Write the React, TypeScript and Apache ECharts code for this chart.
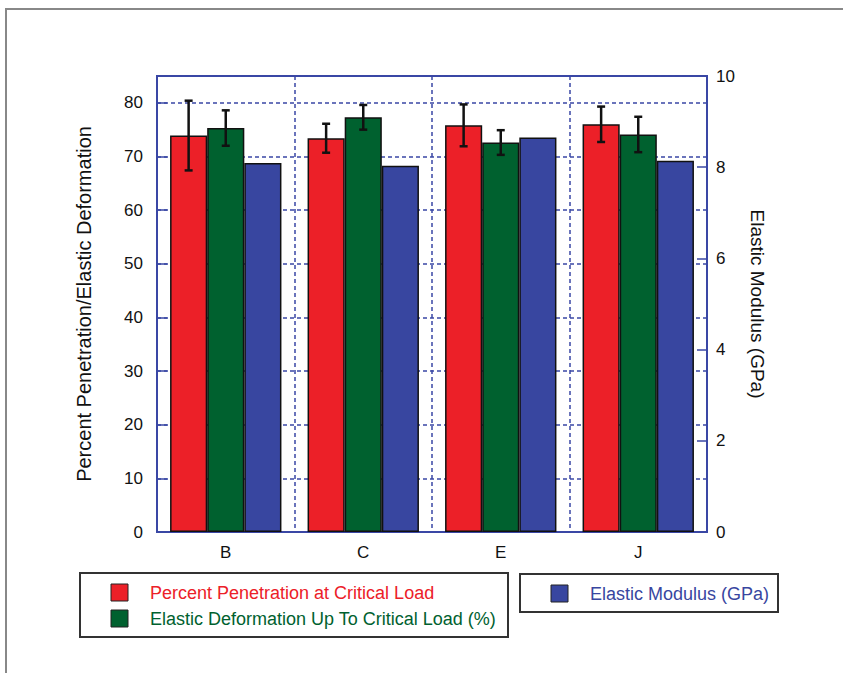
import React, { useEffect, useRef } from "react";
import * as echarts from "echarts";

const categories = ["B", "C", "E", "J"];
const penetration = [73.9, 73.4, 75.8, 76.0];
const penetrationErr = [6.5, 2.7, 3.9, 3.3];
const deformation = [75.3, 77.3, 72.6, 74.1];
const deformationErr = [3.3, 2.3, 2.3, 3.3];
const modulus = [8.09, 8.03, 8.65, 8.14];
const leftTicks = [0, 10, 20, 30, 40, 50, 60, 70, 80];
const rightTicks = [0, 2, 4, 6, 8, 10];

const RED = "#ec2028";
const GREEN = "#00612f";
const BLUE = "#3846a0";
const AXIS = "#3a47a5";
const FONT = "'Liberation Sans', Arial, Helvetica, sans-serif";
const BAR_FRAC = 0.27;

export default function App() {
  const ref = useRef<HTMLDivElement>(null);
  useEffect(() => {
    if (!ref.current) return;
    const chart = echarts.init(ref.current, undefined, { renderer: "svg" });

    const errData: number[][] = [];
    categories.forEach((_, i) => {
      errData.push([i, penetration[i] - penetrationErr[i], penetration[i] + penetrationErr[i], -1]);
      errData.push([i, deformation[i] - deformationErr[i], deformation[i] + deformationErr[i], 0]);
    });

    const dashed = { color: AXIS, width: 1.5, type: [4, 3] as any };

    chart.setOption({
      animation: false,
      backgroundColor: "#fff",
      textStyle: { fontFamily: FONT },
      grid: {
        left: 157,
        top: 76,
        width: 550,
        height: 456,
        show: true,
        borderColor: AXIS,
        borderWidth: 2,
        backgroundColor: "transparent",
      },
      xAxis: {
        type: "category",
        data: categories,
        axisLine: { show: true, lineStyle: { color: AXIS, width: 2 } },
        axisTick: { show: false },
        axisLabel: { color: "#111", fontSize: 17, margin: 12, fontFamily: FONT },
        splitLine: { show: true, lineStyle: dashed },
      },
      yAxis: [
        {
          type: "value",
          min: 0,
          max: 85,
          interval: 10,
          position: "left",
          axisLine: { show: true, lineStyle: { color: AXIS, width: 2 } },
          axisTick: { show: true, inside: true, length: 10, lineStyle: { color: AXIS, width: 1.5 } },
          axisLabel: {
            color: "#111",
            fontSize: 17,
            margin: 14,
            fontFamily: FONT,
            formatter: (v: number) => (leftTicks.includes(v) ? String(v) : ""),
          },
          splitLine: { show: true, lineStyle: dashed },
          name: "Percent Penetration/Elastic Deformation",
          nameLocation: "middle",
          nameGap: 63,
          nameTextStyle: { color: "#111", fontSize: 20, fontFamily: FONT },
        },
        {
          type: "value",
          min: 0,
          max: 10,
          interval: 2,
          position: "right",
          axisLine: { show: true, lineStyle: { color: AXIS, width: 2 } },
          axisTick: { show: true, inside: true, length: 10, lineStyle: { color: AXIS, width: 1.5 } },
          axisLabel: {
            color: "#111",
            fontSize: 17,
            margin: 9,
            fontFamily: FONT,
            formatter: (v: number) => (rightTicks.includes(v) ? String(v) : ""),
          },
          splitLine: { show: false },
          name: "Elastic Modulus (GPa)",
          nameLocation: "middle",
          nameRotate: -90,
          nameGap: 41,
          nameTextStyle: { color: "#111", fontSize: 19, fontFamily: FONT },
        },
      ],
      series: [
        {
          name: "Percent Penetration at Critical Load",
          type: "bar",
          data: penetration,
          barWidth: BAR_FRAC * 100 + "%",
          barGap: "0%",
          itemStyle: { color: RED, borderColor: "#111", borderWidth: 1.5 },
          z: 2,
        },
        {
          name: "Elastic Deformation Up To Critical Load (%)",
          type: "bar",
          data: deformation,
          barWidth: BAR_FRAC * 100 + "%",
          barGap: "0%",
          itemStyle: { color: GREEN, borderColor: "#111", borderWidth: 1.5 },
          z: 2,
        },
        {
          name: "Elastic Modulus (GPa)",
          type: "bar",
          yAxisIndex: 1,
          data: modulus,
          barWidth: BAR_FRAC * 100 + "%",
          barGap: "0%",
          itemStyle: { color: BLUE, borderColor: "#111", borderWidth: 1.5 },
          z: 2,
        },
        {
          name: "errors",
          type: "custom",
          data: errData,
          z: 5,
          encode: { x: 0, y: [1, 2] },
          renderItem: (params: any, api: any) => {
            const ci = api.value(0);
            const bw = api.size([1, 0])[0] * BAR_FRAC;
            const off = api.value(3) * bw;
            const lo = api.coord([ci, api.value(1)]);
            const hi = api.coord([ci, api.value(2)]);
            const x = lo[0] + off;
            const cap = 4;
            const style = { stroke: "#111", lineWidth: 2.5 };
            return {
              type: "group",
              children: [
                { type: "line", shape: { x1: x, y1: lo[1], x2: x, y2: hi[1] }, style },
                { type: "line", shape: { x1: x - cap, y1: lo[1], x2: x + cap, y2: lo[1] }, style },
                { type: "line", shape: { x1: x - cap, y1: hi[1], x2: x + cap, y2: hi[1] }, style },
              ],
            };
          },
        },
      ],
      graphic: [
        { type: "line", shape: { x1: 5, y1: 9, x2: 843, y2: 9 }, style: { stroke: "#888", lineWidth: 2 } },
        { type: "line", shape: { x1: 6, y1: 9, x2: 6, y2: 673 }, style: { stroke: "#888", lineWidth: 2 } },
        {
          type: "rect",
          shape: { x: 80, y: 573, width: 428, height: 64 },
          style: { fill: "#fff", stroke: "#333", lineWidth: 2 },
        },
        {
          type: "rect",
          shape: { x: 111, y: 584, width: 17, height: 17 },
          style: { fill: RED, stroke: "#222", lineWidth: 1 },
        },
        {
          type: "text",
          x: 150,
          y: 592.5,
          style: { text: "Percent Penetration at Critical Load", fill: RED, font: `18px ${FONT}`, verticalAlign: "middle" },
        },
        {
          type: "rect",
          shape: { x: 111, y: 610, width: 17, height: 17 },
          style: { fill: GREEN, stroke: "#222", lineWidth: 1 },
        },
        {
          type: "text",
          x: 150,
          y: 618.5,
          style: { text: "Elastic Deformation Up To Critical Load (%)", fill: GREEN, font: `18px ${FONT}`, verticalAlign: "middle" },
        },
        {
          type: "rect",
          shape: { x: 520, y: 574, width: 258, height: 38 },
          style: { fill: "#fff", stroke: "#333", lineWidth: 2 },
        },
        {
          type: "rect",
          shape: { x: 551, y: 585, width: 17, height: 17 },
          style: { fill: BLUE, stroke: "#222", lineWidth: 1 },
        },
        {
          type: "text",
          x: 590,
          y: 593.5,
          style: { text: "Elastic Modulus (GPa)", fill: BLUE, font: `18px ${FONT}`, verticalAlign: "middle" },
        },
      ],
    });
    return () => chart.dispose();
  }, []);
  return <div ref={ref} style={{ position: "absolute", left: 0, top: 0, width: 843, height: 673 }} />;
}
